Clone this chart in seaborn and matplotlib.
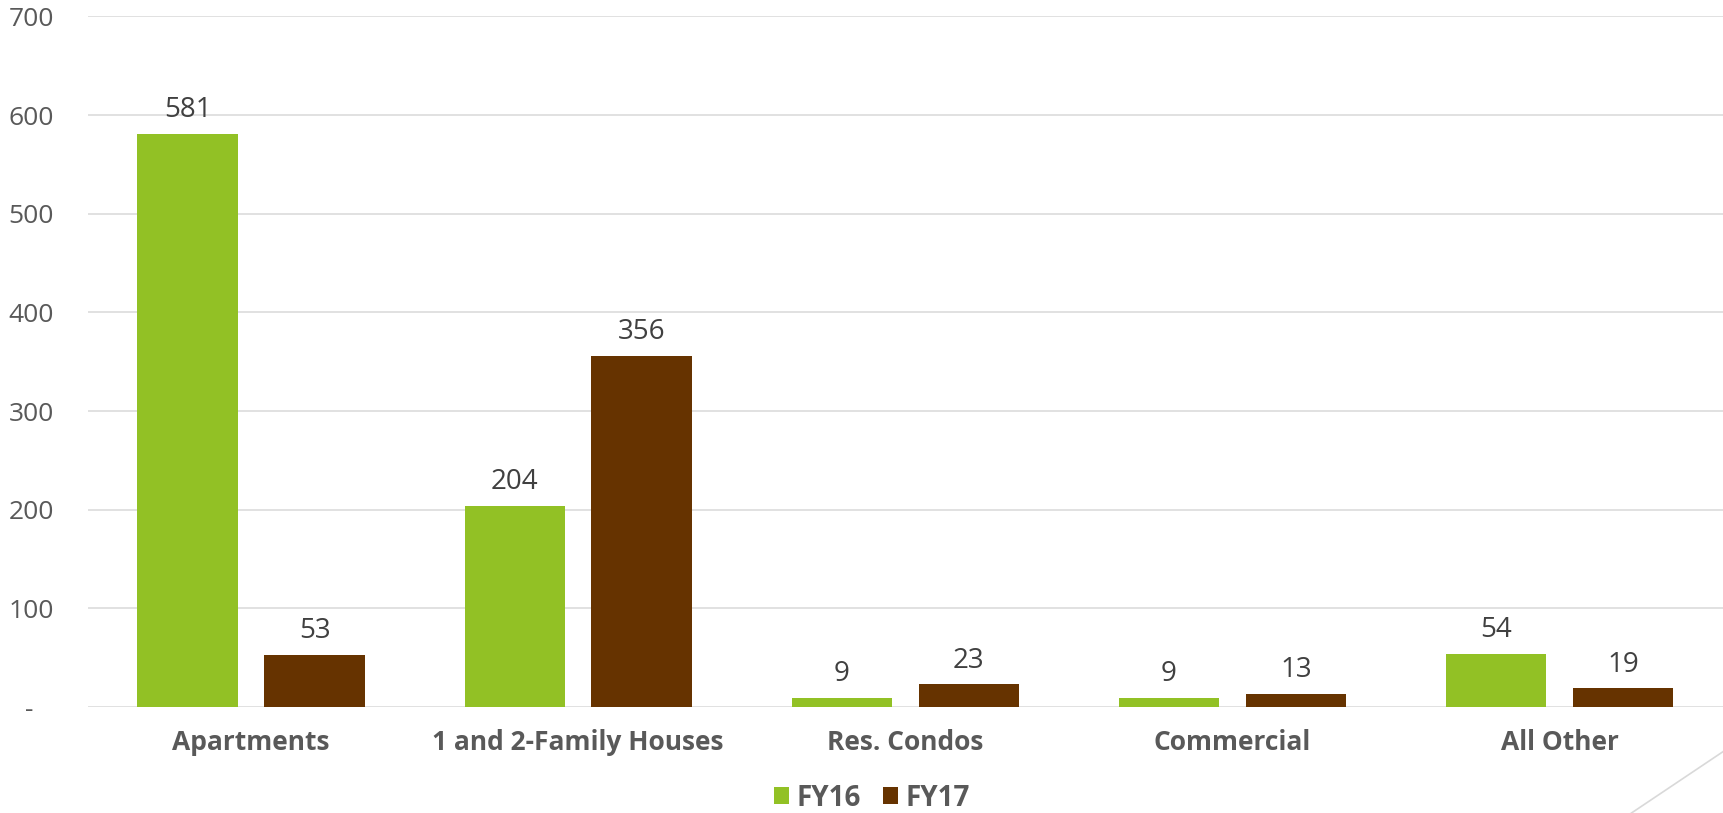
import matplotlib
matplotlib.use("Agg")
import matplotlib.pyplot as plt
import seaborn as sns
import pandas as pd
from matplotlib.patches import Patch
from matplotlib.lines import Line2D

# ---- data ----
categories = ["Apartments", "1 and 2-Family Houses", "Res. Condos", "Commercial", "All Other"]
fy16 = [581, 204, 9, 9, 54]
fy17 = [53, 356, 23, 13, 19]
series_names = ["FY16", "FY17"]
yticks = [0, 100, 200, 300, 400, 500, 600, 700]
ytick_labels = ["-   ", "100", "200", "300", "400", "500", "600", "700"]

colors = {"FY16": "#92C125", "FY17": "#663300"}

df = pd.DataFrame({
    "category": categories * 2,
    "year": [series_names[0]] * len(categories) + [series_names[1]] * len(categories),
    "value": fy16 + fy17,
})

sns.set_theme(style="white")
plt.rcParams["font.family"] = ["Open Sans", "DejaVu Sans"]

W, H = 1724, 813
fig = plt.figure(figsize=(W / 100, H / 100), dpi=100)
ax = fig.add_axes([87.5 / W, (H - 707) / H, (1723 - 87.5) / W, (707 - 16.5) / H])

sns.barplot(data=df, x="category", y="value", hue="year", order=categories,
            hue_order=series_names, palette=colors, saturation=1,
            width=0.776, gap=0.21, linewidth=0, legend=False, ax=ax)

ax.set_xlim(-0.5, len(categories) - 0.5)
ax.set_ylim(0, 700)
ax.set_yticks(yticks)
ax.set_yticklabels(ytick_labels)
ax.set_xlabel("")
ax.set_ylabel("")

ax.grid(axis="y", color="#D9D9D9", linewidth=1.1)
ax.grid(axis="x", visible=False)
ax.set_axisbelow(True)
for s in ax.spines.values():
    s.set_visible(False)

ax.tick_params(axis="y", length=0, pad=24, labelsize=19, labelcolor="#595959")
ax.tick_params(axis="x", length=0, pad=16, labelsize=19, labelcolor="#595959")
for lbl in ax.get_xticklabels():
    lbl.set_fontweight("bold")

for cont in ax.containers:
    ax.bar_label(cont, fmt="%d", padding=7, fontsize=20, color="#404040")

handles = [Patch(facecolor=colors[n], edgecolor="none", label=n) for n in series_names]
leg = fig.legend(handles=handles, loc="center", bbox_to_anchor=(872 / W, 1 - 798 / H),
                 ncol=2, frameon=False, handlelength=0.55, handleheight=0.55,
                 handletextpad=0.27, columnspacing=0.8, borderpad=0,
                 prop={"size": 20, "weight": "bold"})
for t in leg.get_texts():
    t.set_color("#595959")

# decorative corner line
fig.add_artist(Line2D([1724 / W, 1630 / W], [1 - 751 / H, 1 - 814 / H],
                      transform=fig.transFigure, color="#D9D9D9", linewidth=1.2))

fig.savefig("out.png", dpi=100)
